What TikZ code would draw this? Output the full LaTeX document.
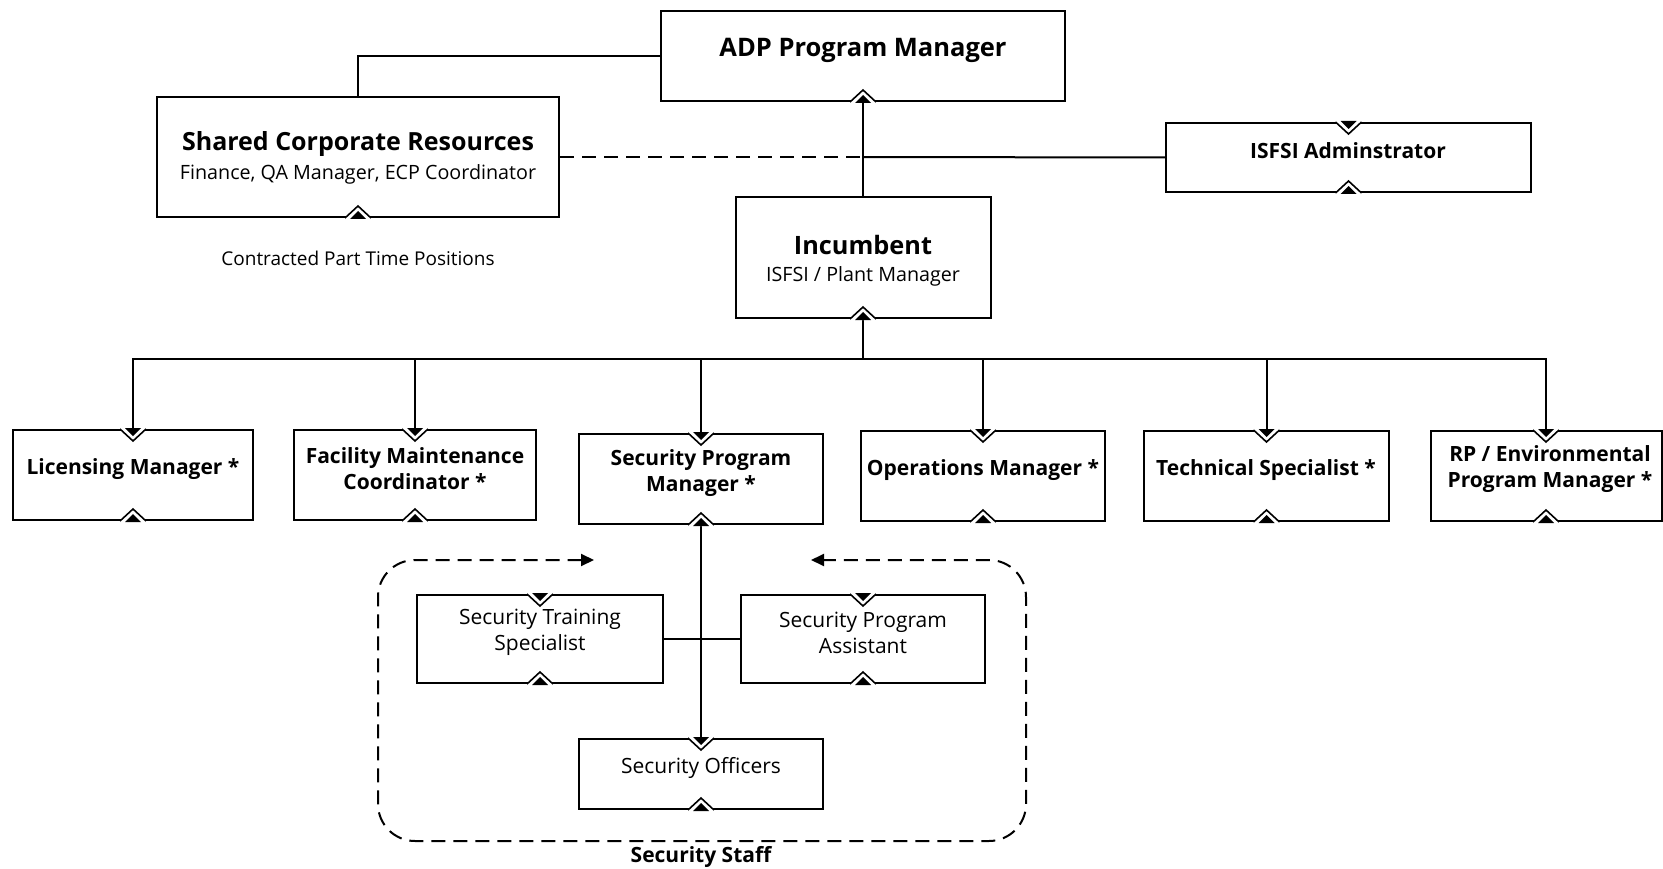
\documentclass[tikz,border=0pt]{standalone}
\usepackage{fontspec}
\setmainfont{Open Sans}
\usetikzlibrary{arrows.meta,calc}
\newcommand\bmkr[1]{%
 \fill[white] ($(#1.south)+(-14,1)$) -- ($(#1.south)+(0,-13)$) -- ($(#1.south)+(14,1)$) -- cycle;
 \draw[mk] ($(#1.south)+(-13,0)$) -- ($(#1.south)+(0,-12)$) -- ($(#1.south)+(13,0)$);
 \fill ($(#1.south)+(-8,1)$) -- ($(#1.south)+(0,-7)$) -- ($(#1.south)+(8,1)$) -- cycle;}
\newcommand\tmkr[1]{%
 \fill[white] ($(#1.north)+(-14,-1)$) -- ($(#1.north)+(0,13)$) -- ($(#1.north)+(14,-1)$) -- cycle;
 \draw[mk] ($(#1.north)+(-13,0)$) -- ($(#1.north)+(0,12)$) -- ($(#1.north)+(13,0)$);
 \fill ($(#1.north)+(-8,-1)$) -- ($(#1.north)+(0,7)$) -- ($(#1.north)+(8,-1)$) -- cycle;}
\begin{document}
\begin{tikzpicture}[x=1pt,y=-1pt,
  box/.style={draw, line width=2pt, rectangle, inner sep=0pt, fill=white},
  ln/.style={line width=2pt},
  dsh/.style={line width=2pt, dash pattern=on 14pt off 8pt},
  mk/.style={line width=1.6pt, line join=miter},
  txt/.style={inner sep=0pt, align=center, yshift=-2.5pt},
  big/.style={txt, font=\fontsize{25.5}{30}\selectfont\bfseries},
  bt/.style={txt, font=\fontsize{21}{26}\selectfont\bfseries},
  rt/.style={txt, font=\fontsize{19.7}{26}\selectfont},
  st/.style={txt, font=\fontsize{21}{26}\selectfont},
]
\useasboundingbox (0,0) rectangle (1663,869);

% boxes
\node[box, minimum width=404, minimum height=90] (adp) at (863,56) {};
\node[box, minimum width=402, minimum height=120] (shared) at (358,157) {};
\node[box, minimum width=365, minimum height=69] (isfsi) at (1348.5,157.5) {};
\node[box, minimum width=255, minimum height=121] (inc) at (863,257.5) {};
\node[box, minimum width=240, minimum height=90] (lic) at (133,475) {};
\node[box, minimum width=242, minimum height=90] (fac) at (415,475) {};
\node[box, minimum width=244, minimum height=90] (spm) at (701,479) {};
\node[box, minimum width=244, minimum height=90] (ops) at (983,476) {};
\node[box, minimum width=245, minimum height=90] (tech) at (1266.5,476) {};
\node[box, minimum width=231, minimum height=90] (rp) at (1546,476) {};
\node[box, minimum width=246, minimum height=88] (sts) at (540,639) {};
\node[box, minimum width=244, minimum height=88] (spa) at (863,639) {};
\node[box, minimum width=244, minimum height=70] (off) at (701,774) {};

% texts
\node[big] (adpt) at (863,48) {ADP Program Manager};
\node[big, font=\fontsize{25}{30}\selectfont\bfseries] (sharedt) at (358,142) {Shared Corporate Resources};
\node[rt] (shareds) at (358,172) {Finance, QA Manager, ECP Coordinator};
\node[bt] (isfsit) at (1348,148.5) {ISFSI Adminstrator};
\node[rt, font=\fontsize{19}{26}\selectfont] (contr) at (358,256) {Contracted Part Time Positions};
\node[big, font=\fontsize{25.3}{30}\selectfont\bfseries] (inct) at (863,243) {Incumbent};
\node[rt] (incs) at (863,274) {ISFSI / Plant Manager};
\node[bt] (lict) at (133,467) {Licensing Manager *};
\node[bt] (fact) at (415,466) {Facility Maintenance\\Coordinator *};
\node[bt] (spmt) at (701,470.5) {Security Program\\Manager *};
\node[bt] (opst) at (983,468) {Operations Manager *};
\node[bt] (techt) at (1266,468) {Technical Specialist *};
\node[bt] (rpt) at (1550,467) {RP / Environmental\\Program Manager *};
\node[st] (stst) at (540,630) {Security Training\\Specialist};
\node[st] (spat) at (863,630.5) {Security Program\\Assistant};
\node[st] (offt) at (701,765) {Security Officers};
\node[bt] (stafft) at (701,854) {Security Staff};

% connectors
\draw[ln] (adp.west) -| (shared.north);
\coordinate (j1) at (inc.north |- shared.east);
\draw[dsh] (shared.east) -- (j1);
\draw[ln] (j1) -- (isfsi.west);
\draw[ln] (inc.north) -- (adp.south);
\coordinate (bus) at ($(inc.south)+(0,40)$);
\draw[ln] (inc.south) -- (bus);
\draw[ln] (bus) -| (lic.north);
\draw[ln] (bus) -| (fac.north);
\draw[ln] (bus) -| (spm.north);
\draw[ln] (bus) -| (ops.north);
\draw[ln] (bus) -| (tech.north);
\draw[ln] (bus) -| (rp.north);
\draw[ln] (spm.south) -- (off.north);
\draw[ln] (sts.east) -- (spa.west);

% security staff group
\coordinate (gl) at (594,560);
\coordinate (gr) at (811,560);
\draw[dsh, rounded corners=37pt, arrows={Triangle[length=13pt,width=12pt]-Triangle[length=13pt,width=12pt]}]
  (gl) -- (378,560) -- (378,841) -- (1026,841) -- (1026,560) -- (gr);

% markers
\foreach \n in {adp,shared,isfsi,inc,lic,fac,spm,ops,tech,rp,sts,spa,off} {\bmkr{\n}}
\foreach \n in {isfsi,lic,fac,spm,ops,tech,rp,sts,spa,off} {\tmkr{\n}}
\end{tikzpicture}
\end{document}
